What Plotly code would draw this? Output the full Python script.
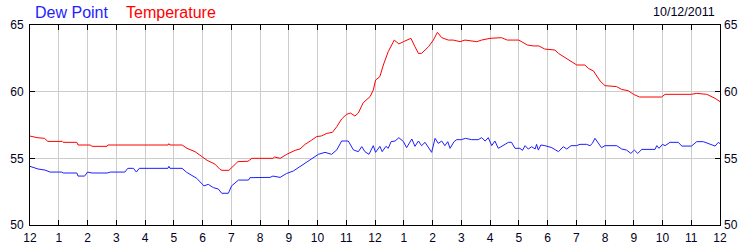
import plotly.graph_objects as go

# ---- data (hours since midnight, degrees F) ----
temp_hours = [0.0, 0.25, 0.5, 0.62, 1.12, 1.15, 1.63, 1.67, 2.09, 2.16, 2.68, 2.71, 4.8, 4.83, 4.87,
              5.29, 5.46, 5.74, 5.98, 6.16, 6.43, 6.61, 6.68, 6.92, 7.23, 7.58, 7.72, 8.45, 8.5, 8.7,
              8.93, 9.22, 9.39, 9.57, 9.8, 9.97, 10.14, 10.32, 10.52, 10.67, 10.84, 11.01, 11.15, 11.3,
              11.42, 11.59, 11.83, 11.94, 12.02, 12.17, 12.29, 12.46, 12.67, 12.83, 12.99, 13.25, 13.39,
              13.51, 13.62, 13.86, 14.03, 14.17, 14.32, 14.55, 14.72, 14.96, 15.13, 15.54, 15.71, 16.0,
              16.4, 16.6, 17.0, 17.1, 17.3, 17.5, 17.7, 17.9, 18.26, 18.38, 18.6, 18.84, 19.02, 19.3,
              19.42, 19.6, 19.83, 20.0, 20.4, 20.58, 20.81, 20.99, 21.2, 21.97, 22.09, 23.0, 23.19,
              23.54, 23.83, 24.0]
temperature = [56.67, 56.55, 56.5, 56.27, 56.27, 56.2, 56.2, 56.0, 56.0, 55.9, 55.9, 56.0, 56.0, 56.1, 56.0,
               56.0, 55.75, 55.5, 55.13, 54.85, 54.57, 54.17, 54.1, 54.1, 54.75, 54.78, 55.0, 55.0, 55.1, 55.0,
               55.3, 55.6, 55.7, 56.05, 56.37, 56.63, 56.68, 56.87, 56.95, 57.37, 57.95, 58.3, 58.4, 58.17,
               58.4, 59.17, 59.63, 60.12, 60.87, 61.13, 62.0, 63.0, 63.87, 63.58, 63.75, 64.0, 63.37,
               62.87, 62.87, 63.37, 63.87, 64.45, 64.05, 63.87, 63.87, 63.75, 63.87, 63.75, 63.87, 64.0,
               64.05, 63.87, 63.87, 63.75, 63.5, 63.43, 63.43, 63.2, 63.12, 62.87, 62.57, 62.2, 62.0, 62.0,
               61.75, 61.55, 60.8, 60.45, 60.38, 60.17, 60.07, 59.8, 59.6, 59.6, 59.8, 59.8, 59.87,
               59.8, 59.5, 59.25]

dew_hours = [0.0, 0.28, 0.52, 0.7, 1.11, 1.15, 1.63, 1.67, 1.9, 2.0, 2.16, 2.68, 2.8, 3.3, 3.4, 3.6, 3.7,
             3.8, 4.8, 4.83, 4.87, 5.29, 5.45, 5.8, 6.05, 6.2, 6.38, 6.55, 6.67, 6.9, 7.01, 7.25, 7.6,
             7.65, 8.35, 8.45, 8.7, 8.93, 9.16, 9.39, 9.74, 10.03, 10.26, 10.49, 10.67, 10.84, 11.07,
             11.25, 11.42, 11.54, 11.65, 11.79, 11.94, 12.02, 12.17, 12.25, 12.38, 12.46, 12.56, 12.7,
             12.83, 12.99, 13.1, 13.28, 13.39, 13.51, 13.62, 13.74, 13.97, 14.09, 14.2, 14.32, 14.43,
             14.53, 14.61, 14.75, 14.84, 15.0, 15.15, 15.36, 15.59, 15.71, 15.83, 15.94, 16.06, 16.17,
             16.29, 16.46, 16.64, 16.75, 16.87, 17.04, 17.13, 17.22, 17.33, 17.45, 17.57, 17.62, 17.68,
             17.77, 17.91, 18.15, 18.38, 18.55, 18.67, 18.82, 19.01, 19.13, 19.36, 19.48, 19.56, 19.65,
             19.77, 19.88, 20.0, 20.41, 20.58, 20.75, 20.9, 21.02, 21.14, 21.28, 21.74, 21.8, 21.88,
             22.0, 22.09, 22.26, 22.55, 22.67, 23.01, 23.19, 23.42, 23.59, 23.83, 23.94, 24.0]
dew_point = [54.4, 54.2, 54.12, 53.97, 53.97, 53.9, 53.9, 53.67, 53.67, 53.97, 53.9, 53.9, 53.97, 53.97,
             54.25, 54.25, 53.97, 54.25, 54.25, 54.4, 54.25, 54.25, 53.95, 53.5, 52.93, 53.05, 52.8, 52.7,
             52.38, 52.38, 52.93, 53.37, 53.37, 53.55, 53.57, 53.67, 53.57, 53.87, 54.05, 54.37, 54.83,
             55.3, 55.45, 55.3, 55.63, 56.3, 56.3, 55.63, 55.5, 55.88, 55.5, 55.3, 55.95, 55.45, 55.9,
             55.5, 55.9, 55.75, 56.25, 56.3, 56.55, 56.25, 55.8, 56.45, 55.9, 56.3, 55.95, 56.2, 55.45,
             56.5, 56.12, 56.3, 55.95, 56.25, 55.75, 56.25, 56.4, 56.4, 56.5, 56.4, 56.4, 56.55, 56.3,
             56.55, 55.95, 56.3, 55.75, 55.95, 56.2, 56.2, 55.75, 55.75, 55.6, 55.95, 55.7, 55.87, 55.7,
             56.05, 55.62, 56.0, 55.95, 55.8, 55.5, 55.87, 55.7, 55.95, 55.95, 56.05, 56.05, 55.95,
             56.12, 56.5, 56.12, 55.8, 55.95, 55.95, 55.7, 55.62, 55.37, 55.62, 55.37, 55.67, 55.67,
             55.95, 55.75, 56.05, 55.95, 56.2, 56.2, 55.92, 55.92, 56.25, 56.25, 56.12, 55.92, 56.2, 56.1]

x_tickvals = list(range(0, 25))
x_ticktext = ["12", "1", "2", "3", "4", "5", "6", "7", "8", "9", "10", "11",
              "12", "1", "2", "3", "4", "5", "6", "7", "8", "9", "10", "11", "12"]
y_tickvals = [50, 55, 60, 65]
date_label = "10/12/2011"
series_names = ["Dew Point", "Temperature"]

FONT = "Arial, Liberation Sans, sans-serif"
TXT = "#000022"

fig = go.Figure()
fig.add_trace(go.Scatter(x=temp_hours, y=temperature, mode="lines", name=series_names[1],
                         line=dict(color="#ff0000", width=1), yaxis="y"))
fig.add_trace(go.Scatter(x=dew_hours, y=dew_point, mode="lines", name=series_names[0],
                         line=dict(color="#1e1eff", width=1), yaxis="y2"))

fig.update_layout(
    width=750, height=250,
    margin=dict(l=30, r=30, t=25, b=25, autoexpand=False),
    paper_bgcolor="white", plot_bgcolor="white",
    showlegend=False,
    font=dict(family=FONT, size=12, color=TXT),
    xaxis=dict(range=[0, 24], tickvals=x_tickvals, ticktext=x_ticktext,
               showgrid=True, gridcolor="#cccccc", gridwidth=1,
               showline=True, linecolor="black", linewidth=1, mirror="ticks",
               ticks="inside", ticklen=5, tickcolor="black", tickwidth=1,
               tickfont=dict(family=FONT, size=12, color=TXT), automargin=False,
               ticklabelstandoff=2, zeroline=False, fixedrange=True),
    yaxis=dict(range=[50, 65], tickvals=y_tickvals, side="left",
               showgrid=True, gridcolor="#cccccc", gridwidth=1,
               showline=True, linecolor="black", linewidth=1, mirror=True,
               ticks="inside", ticklen=5, tickcolor="black", automargin=False,
               tickfont=dict(family=FONT, size=12, color=TXT),
               ticklabelstandoff=3, zeroline=False),
    yaxis2=dict(range=[50, 65], tickvals=y_tickvals, side="right", overlaying="y",
                showgrid=False, showline=False, automargin=False,
                ticks="inside", ticklen=5, tickcolor="black",
                tickfont=dict(family=FONT, size=12, color=TXT),
                ticklabelstandoff=3, zeroline=False),
)

fig.add_annotation(text=series_names[0], xref="paper", yref="paper", x=(33 - 30) / 690, y=1.065,
                   xanchor="left", yanchor="middle", showarrow=False,
                   font=dict(family=FONT, size=16, color="#1e1eff"))
fig.add_annotation(text=series_names[1], xref="paper", yref="paper", x=(124 - 30) / 690, y=1.065,
                   xanchor="left", yanchor="middle", showarrow=False,
                   font=dict(family=FONT, size=16, color="#ff0000"))
fig.add_annotation(text=date_label, xref="paper", yref="paper", x=(717 - 30) / 690, y=1.065,
                   xanchor="right", yanchor="middle", showarrow=False,
                   font=dict(family=FONT, size=12.5, color=TXT))

fig.write_html("out.html")
